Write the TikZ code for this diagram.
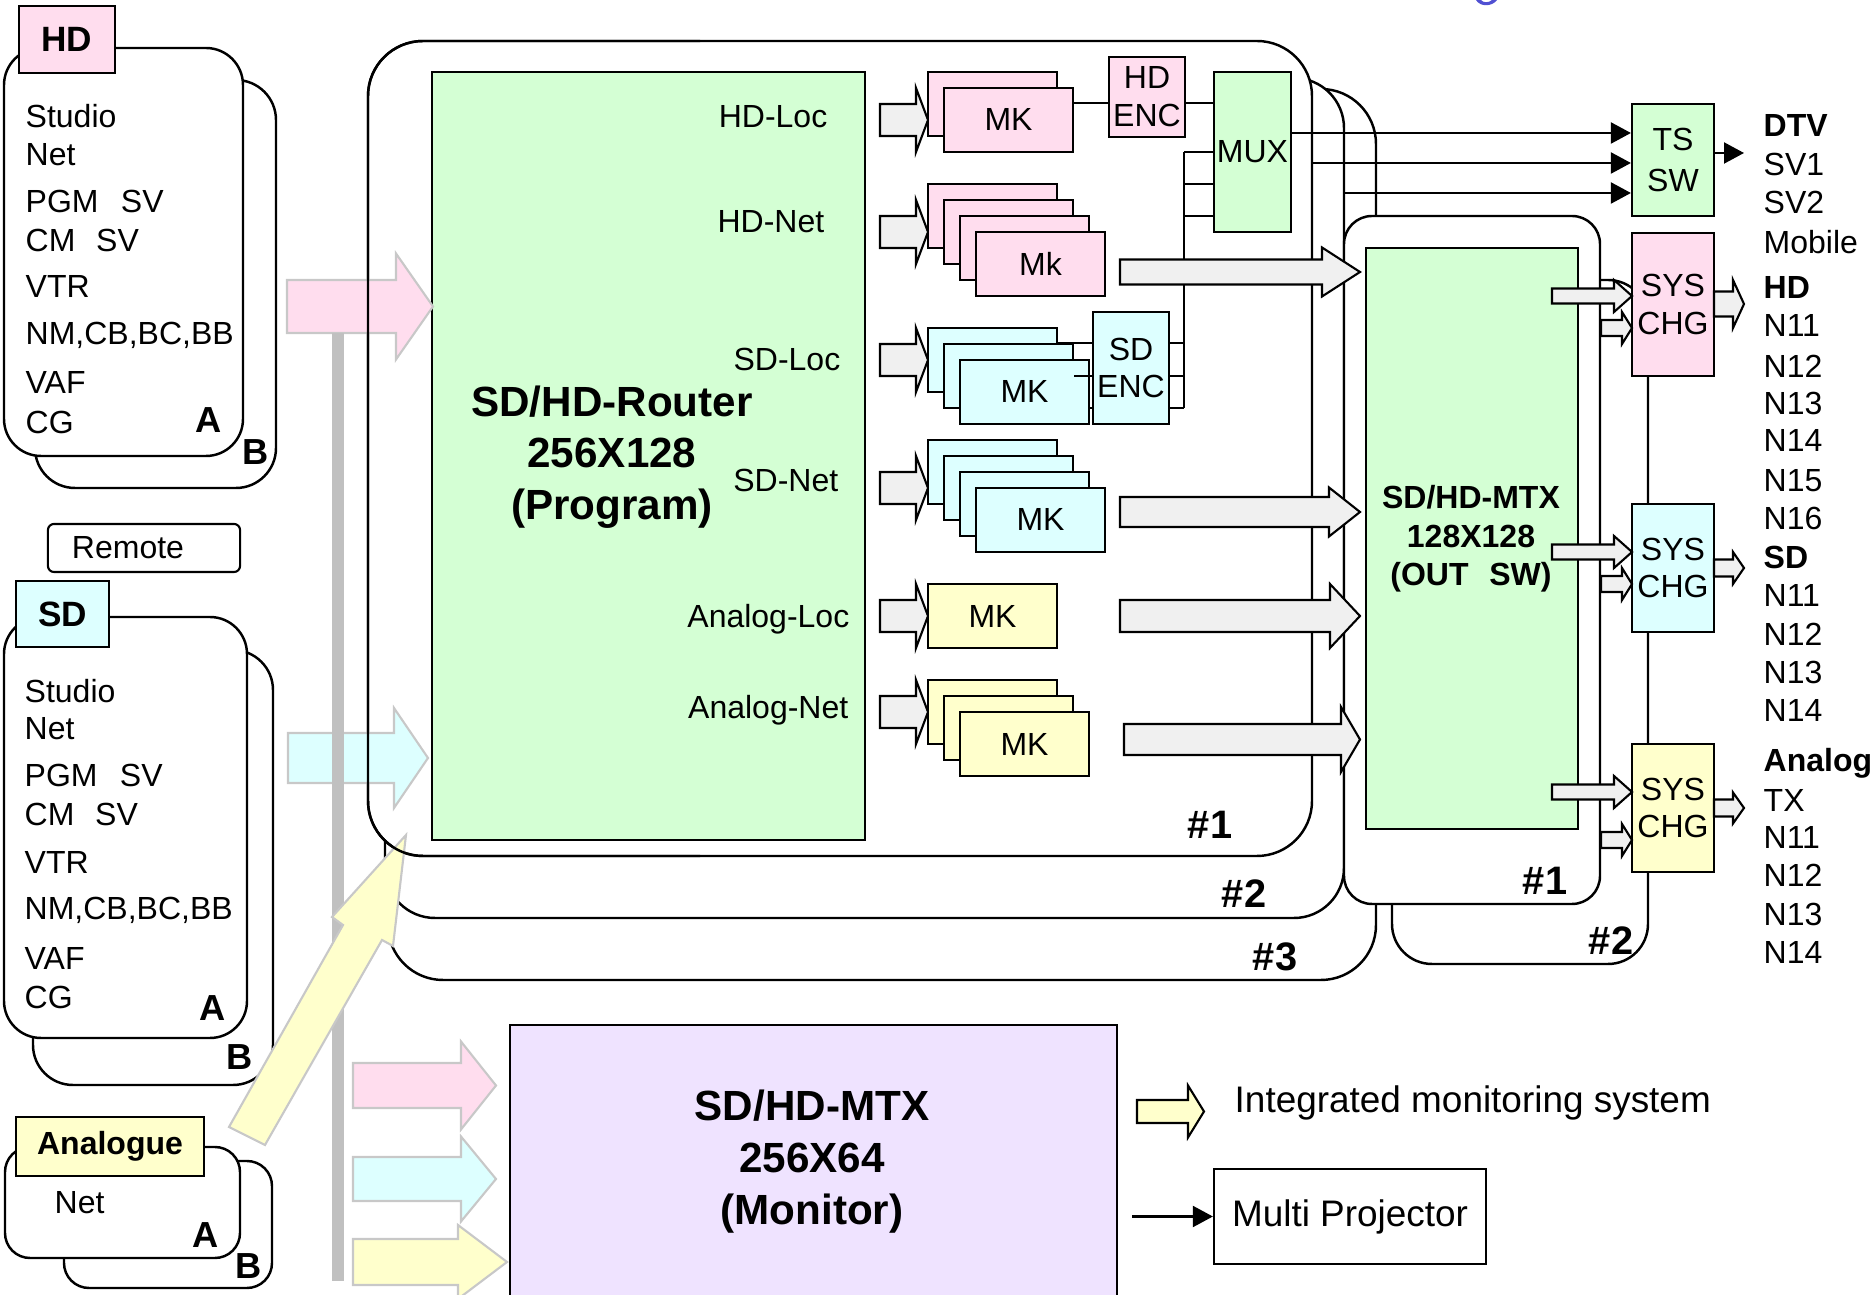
\documentclass[tikz,border=0pt]{standalone}
\usepackage{fontspec}
\setmainfont{Liberation Sans}
\usetikzlibrary{arrows.meta}

\definecolor{hdpink}{RGB}{255,221,238}
\definecolor{sdcyan}{RGB}{221,255,255}
\definecolor{anyellow}{RGB}{255,255,204}
\definecolor{mtxgreen}{RGB}{212,255,212}
\definecolor{monlilac}{RGB}{239,227,255}
\definecolor{arrgray}{RGB}{240,240,240}
\definecolor{bargray}{RGB}{192,192,192}
\definecolor{softedge}{RGB}{200,200,200}
\definecolor{titleblue}{RGB}{80,80,210}

% block arrow: style, x start, x head, x tip, y centre, shaft half, head half
\newcommand{\blockarrow}[7]{%
  \draw[#1] (#2,#5-#6) -- (#3,#5-#6) -- (#3,#5-#7) -- (#4,#5)
    -- (#3,#5+#7) -- (#3,#5+#6) -- (#2,#5+#6) -- cycle;}

\begin{document}
\begin{tikzpicture}[x=0.01cm,y=-0.01cm,
    every node/.style={font=\fontsize{9.1}{10.8}\selectfont},
    txt/.style={anchor=west,inner sep=0pt},
    tag/.style={inner sep=0pt,font=\fontsize{10.3}{12}\selectfont\bfseries},
    head/.style={inner sep=0pt,align=center,font=\fontsize{12}{14.6}\selectfont\bfseries},
    card/.style={draw,line width=0.7pt,fill=white},
    frame/.style={draw,line width=0.7pt,fill=white},
    box/.style={draw,line width=0.6pt,inner sep=0pt,align=center},
    mkbox/.style={box,minimum width=1.29cm,minimum height=0.64cm},
    graya/.style={draw,line width=0.6pt,fill=arrgray},
    softa/.style={draw=softedge,line width=0.6pt},
    tsarrow/.style={-{Triangle[length=0.2cm,width=0.21cm]},line width=0.6pt}]

\useasboundingbox (0,0) rectangle (1875,1295);

% cut title
\fill[titleblue] (1476,0) .. controls (1480,7) and (1492,7) .. (1497,0) -- (1492,0) .. controls (1489,3) and (1483,3) .. (1481,0) -- cycle;

% HD sources
\draw[card,rounded corners=0.4cm] (35,80) rectangle (276,488);
\draw[card,rounded corners=0.37cm] (4,48) rectangle (243,456);
\node[box,fill=hdpink,minimum width=0.96cm,minimum height=0.67cm,font=\fontsize{10}{12}\selectfont\bfseries] (hdtag) at (67,39.5) {HD};
\foreach \t/\yy [count=\k] in {Studio/116,Net/155,PGM\hspace{0.7em}SV/201,CM\hspace{0.65em}SV/240,VTR/287,{NM,CB,BC,BB}/335,VAF/383,CG/422}
  \node[txt] (hdline\k) at (25,\yy) {\t};
\node[tag] (hdA) at (209,420) {A};
\node[tag] (hdB) at (256,452) {B};

\node[draw,line width=0.6pt,rounded corners=0.06cm,inner sep=0pt,minimum width=1.92cm,minimum height=0.48cm] (remote) at (144,548) {Remote\kern0.32cm};

% SD sources
\draw[card,rounded corners=0.4cm] (33,650) rectangle (273,1085);
\draw[card,rounded corners=0.37cm] (4,617) rectangle (247,1038);
\node[box,fill=sdcyan,minimum width=0.93cm,minimum height=0.66cm,font=\fontsize{10}{12}\selectfont\bfseries] (sdtag) at (62.5,614) {SD};
\foreach \t/\yy [count=\k] in {Studio/691,Net/729,PGM\hspace{0.7em}SV/775,CM\hspace{0.65em}SV/814,VTR/862,{NM,CB,BC,BB}/910,VAF/958,CG/997}
  \node[txt] (sdline\k) at (24,\yy) {\t};
\node[tag] (sdA) at (213,1008) {A};
\node[tag] (sdB) at (240,1057) {B};

% analogue sources
\draw[card,rounded corners=0.25cm] (64,1161) rectangle (272,1288);
\draw[card,rounded corners=0.25cm] (5,1147) rectangle (240,1258);
\node[box,fill=anyellow,minimum width=1.88cm,minimum height=0.59cm,font=\fontsize{9.1}{11}\selectfont\bfseries] (antag) at (110,1146.5) {Analogue};
\node[txt] (annet) at (54,1203) {Net};
\node[tag] (anA) at (206,1235) {A};
\node[tag] (anB) at (249,1266) {B};

% router frames
\draw[frame,rounded corners=0.55cm] (388,89) rectangle (1376,980);
\draw[frame,rounded corners=0.5cm] (385,78) rectangle (1344,918);
\draw[frame,rounded corners=0.55cm] (368,41) rectangle (1312,856);
\node[tag,font=\fontsize{11.3}{13}\selectfont\bfseries] (rone) at (1210,825) {\#1};
\node[tag,font=\fontsize{11.3}{13}\selectfont\bfseries] (rtwo) at (1244,894) {\#2};
\node[tag,font=\fontsize{11.3}{13}\selectfont\bfseries] (rthree) at (1275,957) {\#3};

\node[box,fill=mtxgreen,minimum width=4.33cm,minimum height=7.68cm] (router) at (648.5,456) {};
\node[head] (routertxt) at (612,457) {SD/HD-Router\\256X128\\(Program)};
\foreach \t/\xx/\yy [count=\k] in {HD-Loc/828/117,HD-Net/825/222,SD-Loc/841/359,SD-Net/839/480,Analog-Loc/850/619,Analog-Net/849/710}
  \node[anchor=east,inner sep=0pt] (port\k) at (\xx,\yy) {\t};

% keyers
\foreach \yy in {120,232,360,488,616,712}{
  \blockarrow{graya}{880}{916}{928}{\yy}{16}{32}
}
\foreach \row/\bx/\by/\n/\col/\lab in {hdloc/928/72/1/hdpink/MK,hdnet/928/184/3/hdpink/Mk,sdloc/928/328/2/sdcyan/MK,sdnet/928/440/3/sdcyan/MK,anloc/928/584/0/anyellow/MK,annetmk/928/680/2/anyellow/MK}{
  \foreach \i in {0,...,\n}
    \node[mkbox,fill=\col] (\row\i) at ({\bx+64.5+16*\i},{\by+32+16*\i}) {\ifnum\i=\n\lab\fi};
}

\node[box,fill=hdpink,minimum width=0.76cm,minimum height=0.80cm] (hdenc) at (1147,97) {HD\\ENC};
\node[box,fill=mtxgreen,minimum width=0.77cm,minimum height=1.60cm] (mux) at (1252.5,152) {MUX};
\node[box,fill=sdcyan,minimum width=0.76cm,minimum height=1.12cm] (sdenc) at (1131,368) {SD\\ENC};

\draw[line width=0.6pt] (hdloc1.east |- 0,103) -- (hdenc.west |- 0,103);
\draw[line width=0.6pt] (hdenc.east |- 0,103) -- (mux.west |- 0,103);
\coordinate (bus) at (1184,152);
\draw[line width=0.6pt] (bus) -- (bus |- 0,408);
\foreach \yy in {152,184,216}
  \draw[line width=0.6pt] (bus |- 0,\yy) -- (mux.west |- 0,\yy);
\foreach \i/\yy in {0/343,1/376,2/408}{
  \draw[line width=0.6pt] (sdloc\i.east |- 0,\yy) -- (sdenc.west |- 0,\yy);
  \draw[line width=0.6pt] (sdenc.east |- 0,\yy) -- (bus |- 0,\yy);
}

% output matrix frames
\draw[frame,rounded corners=0.4cm] (1392,280) rectangle (1648,964);
\draw[frame,rounded corners=0.28cm] (1344,216) rectangle (1600,904);
\node[tag,font=\fontsize{11.3}{13}\selectfont\bfseries] (mone) at (1545,881) {\#1};
\node[tag,font=\fontsize{11.3}{13}\selectfont\bfseries] (mtwo) at (1611,941) {\#2};
\node[box,fill=mtxgreen,minimum width=2.12cm,minimum height=5.81cm] (mtx) at (1472,538.5) {};
\node[head,font=\fontsize{9.1}{11}\selectfont\bfseries] (mtxtxt) at (1471,539) {SD/HD-MTX\\128X128\\(OUT\hspace{0.65em}SW)};

% keyer outputs into the matrix
\blockarrow{graya}{1120}{1322}{1360}{272}{12.5}{24.5}
\blockarrow{graya}{1120}{1329}{1360}{512}{15}{24.5}
\blockarrow{graya}{1120}{1330}{1360}{616}{16}{32}
\blockarrow{graya}{1124}{1341}{1360}{739.5}{15.5}{32.5}

% TS switch
\node[box,fill=mtxgreen,minimum width=0.82cm,minimum height=1.12cm,font=\fontsize{9.1}{11.4}\selectfont] (tssw) at (1673,160) {TS\\SW};
\coordinate (muxtwo) at (1312,163);
\coordinate (muxthree) at (1344,193);
\coordinate (dtvout) at (1744,153);
\draw[tsarrow] (mux.east |- 0,133) -- (tssw.west |- 0,133);
\draw[tsarrow] (muxtwo) -- (tssw.west |- muxtwo);
\draw[tsarrow] (muxthree) -- (tssw.west |- muxthree);
\draw[tsarrow] (tssw.east |- dtvout) -- (dtvout);

% system changers
\node[box,fill=hdpink,minimum width=0.82cm,minimum height=1.43cm] (chghd) at (1673,304.5) {SYS\\CHG};
\node[box,fill=sdcyan,minimum width=0.82cm,minimum height=1.28cm] (chgsd) at (1673,568) {SYS\\CHG};
\node[box,fill=anyellow,minimum width=0.82cm,minimum height=1.28cm] (chgan) at (1673,808) {SYS\\CHG};
\foreach \yy in {296,552,792}{
  \blockarrow{graya}{1552}{1614}{1632}{\yy}{7.5}{16}
}
\foreach \yy in {328,584,840}{
  \blockarrow{graya}{1601}{1622}{1632}{\yy}{8}{16}
}
\blockarrow{graya}{1714}{1733}{1744}{304}{12.5}{24}
\blockarrow{graya}{1714}{1733}{1744}{568}{8.5}{16}
\blockarrow{graya}{1714}{1733}{1744}{808}{8.5}{15.5}

\foreach \t/\yy [count=\k] in {\textbf{DTV}/126,SV1/164,SV2/202,Mobile/242,\textbf{HD}/288,N11/326,N12/366,N13/403,N14/441,N15/481,N16/518,\textbf{SD}/557,N11/595,N12/634,N13/672,N14/710,\textbf{Analog}/763,TX/800,N11/837,N12/875,N13/914,N14/952}
  \node[txt] (out\k) at (1763,\yy) {\t};

% source feeds
\blockarrow{softa,fill=hdpink}{287}{396}{433}{306.5}{26.5}{53}
\blockarrow{softa,fill=sdcyan}{288}{394}{428}{758}{25}{50}
\fill[bargray] (332,333) rectangle (344,1281);
\draw[softa,fill=anyellow] (229,1127) -- (343,925) -- (332,917) -- (406,835) -- (393,946) -- (382,940) -- (265,1145) -- cycle;
\begin{scope}
  \clip (300,0) rectangle (700,1000);
  \draw[line width=0.7pt,rounded corners=0.55cm] (368,41) rectangle (1312,856);
\end{scope}

% monitor matrix
\blockarrow{softa,fill=hdpink}{353}{461}{496}{1085.5}{22.5}{44}
\blockarrow{softa,fill=sdcyan}{353}{461}{496}{1179}{22}{42.5}
\blockarrow{softa,fill=anyellow}{353}{458}{507}{1262}{23}{37}
\node[box,fill=monlilac,minimum width=6.07cm,minimum height=2.85cm] (monitor) at (813.5,1167.5) {};
\node[head,font=\fontsize{12}{14.8}\selectfont\bfseries] (montxt) at (812,1162) {SD/HD-MTX\\256X64\\(Monitor)};

\blockarrow{draw=black,line width=0.6pt,fill=anyellow}{1137}{1188}{1204}{1111.5}{11.5}{26}
\node[txt,font=\fontsize{10.5}{12}\selectfont] (imstxt) at (1234,1103) {Integrated monitoring system};
\node[box,minimum width=2.72cm,minimum height=0.95cm,font=\fontsize{10.5}{12}\selectfont] (multiproj) at (1350,1216.5) {Multi Projector};
\coordinate (mpsrc) at (1132,1216.5);
\draw[tsarrow] (mpsrc) -- (multiproj.west);

\end{tikzpicture}
\end{document}
